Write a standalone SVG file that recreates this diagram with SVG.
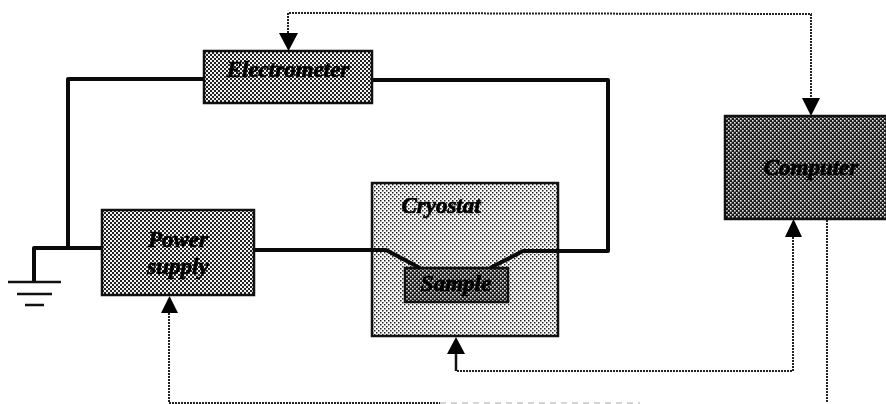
<svg xmlns="http://www.w3.org/2000/svg" width="886" height="404" viewBox="0 0 886 404">
<style>
.box{stroke:#111;stroke-width:2.5}
.wire{fill:none;stroke:#0a0a0a;stroke-width:4;stroke-linejoin:round}
.thin{fill:none;stroke:#111;stroke-width:2.5}
.dot{fill:none;stroke:#222;stroke-width:2;stroke-dasharray:2 1}
.head{fill:#000}
text{font-family:"Liberation Serif","Times New Roman",serif;font-weight:bold;font-style:italic;font-size:23px;fill:#000;stroke:#000;stroke-width:0.7;text-anchor:middle;filter:url(#soft)}
</style>
<defs>
<filter id="soft" x="-10%" y="-20%" width="120%" height="140%"><feGaussianBlur stdDeviation="0.45"/></filter>
<pattern id="p1" width="4" height="4" patternUnits="userSpaceOnUse"><rect width="4" height="4" fill="#f4f4f4"/><rect width="2" height="2" fill="#222"/><rect x="2" y="2" width="2" height="2" fill="#222"/></pattern>
<pattern id="p2" width="4" height="4" patternUnits="userSpaceOnUse"><rect width="4" height="4" fill="#fafafa"/><rect width="1.500" height="1.500" fill="#222"/><rect x="2" y="2" width="1.500" height="1.500" fill="#222"/></pattern>
<pattern id="p3" width="4" height="4" patternUnits="userSpaceOnUse"><rect width="4" height="4" fill="#1a1a1a"/><rect width="1.600" height="1.600" fill="#e4e4e4"/><rect x="2" y="2" width="1.600" height="1.600" fill="#e4e4e4"/></pattern>
</defs>
<g id="cryostat"><rect class="box" x="372" y="183" width="186" height="153" fill="url(#p2)"/><text x="441" y="213">Cryostat</text></g>
<g id="sample"><rect class="box" x="405" y="268" width="103" height="34" fill="url(#p3)"/><text x="456" y="291">Sample</text></g>
<g id="connectors">
<path class="wire" d="M204 79H68V248M34 282V248H102M254 250H386L420 268M372 80H608V251H523L490 268"/>
<path class="thin" d="M8 282H61M17 294H52M25 305H44"/>
<path class="dot" d="M288 33V13L811 14V98M793 237V371H456M827 220V402M169 313V403H440"/>
<path d="M440 403H640" fill="none" stroke="#aaa" stroke-width="1" stroke-dasharray="6 5"/>
<path d="M456 371V354" fill="none" stroke="#111" stroke-width="2.500"/>
<path class="head" d="M279 33H298L288.500 51ZM802 98H820L811 116ZM785 237H802L793.500 219ZM447 354H465L456 337ZM161 313H178L169.500 296Z"/>
</g>
<g id="electrometer"><rect class="box" x="204" y="51" width="168" height="52" fill="url(#p1)"/><text x="288" y="77">Electrometer</text></g>
<g id="power-supply"><rect class="box" x="102" y="210" width="152" height="85" fill="url(#p1)"/><text x="178" y="247">Power</text><text x="178" y="274">supply</text></g>
<g id="computer"><rect class="box" x="725" y="116" width="162" height="103" fill="url(#p3)"/><text x="811" y="175">Computer</text></g>
</svg>
